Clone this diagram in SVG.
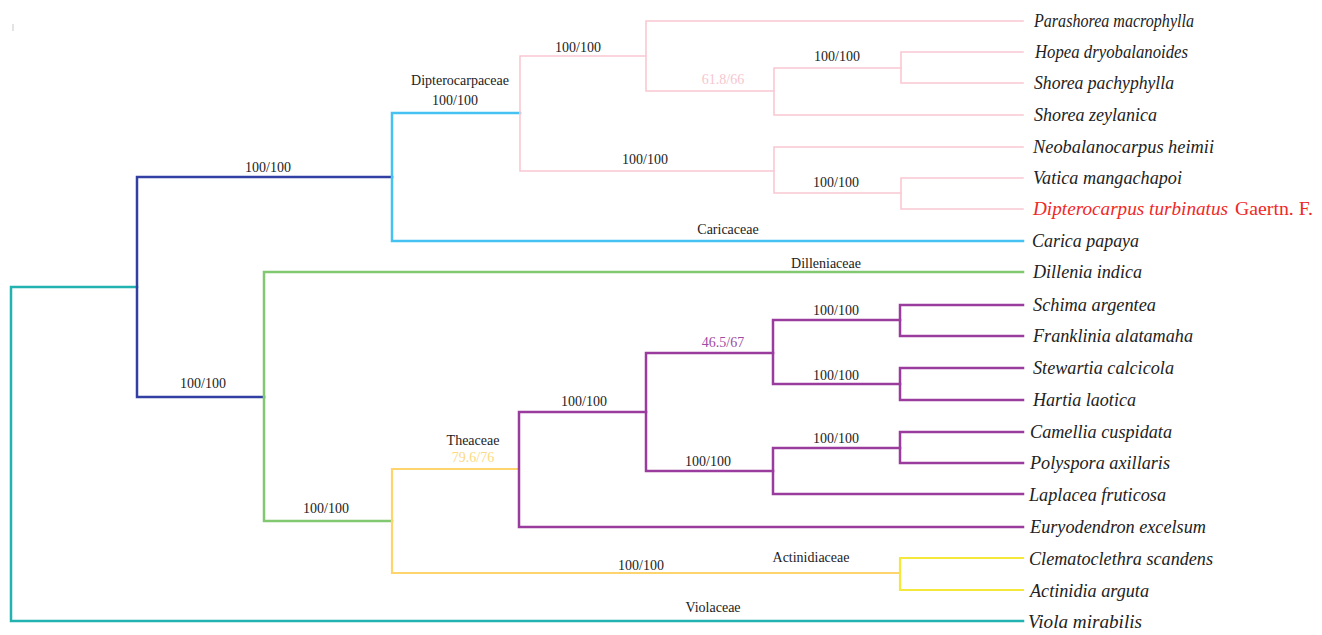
<svg xmlns="http://www.w3.org/2000/svg" width="1322" height="635" viewBox="0 0 1322 635">
<style>
.tip{font-family:"Liberation Serif","Times New Roman",serif;font-style:italic;font-size:19.5px;fill:#222}
.sup{font-family:"Liberation Serif","Times New Roman",serif;font-size:14px;fill:#222;text-anchor:middle}
.fam{font-family:"Liberation Serif","Times New Roman",serif;font-size:14px;fill:#222;text-anchor:middle}
path{fill:none;stroke-linecap:square}
.teal{stroke:#22b2b0;stroke-width:2.5}
.navy{stroke:#3140a2;stroke-width:2.5}
.sky{stroke:#46c2f2;stroke-width:2.5}
.pink{stroke:#fac8d2;stroke-width:1.6}
.green{stroke:#82c870;stroke-width:2.5}
.orange{stroke:#fdd56c;stroke-width:2.2}
.purple{stroke:#9a3c9e;stroke-width:2.5}
.yellow{stroke:#f4e83a;stroke-width:2.2}
</style>
<rect width="1322" height="635" fill="#ffffff"/>
<line x1="13" y1="24" x2="13" y2="31" stroke="#c8c8c8" stroke-width="1"/>
<g id="connectors">
<path class="teal" d="M137,287 H11 V621 H1023"/>
<path class="navy" d="M392,177 H137 V397 H264"/>
<path class="sky" d="M520,113 H392 V241 H1023"/>
<path class="pink" d="M646,56 H520 V171 H774"/>
<path class="pink" d="M1023,21 H646 V91 H774"/>
<path class="pink" d="M901,68 H774 V115 H1023"/>
<path class="pink" d="M1023,52 H901 V83 H1023"/>
<path class="pink" d="M1023,147 H774 V193 H901"/>
<path class="pink" d="M1023,178 H901 V209 H1023"/>
<path class="green" d="M1023,272 H264 V521 H392"/>
<path class="orange" d="M519,469 H392 V573 H900"/>
<path class="purple" d="M646,412 H519 V527 H1023"/>
<path class="purple" d="M773,353 H646 V471 H773"/>
<path class="purple" d="M900,320 H773 V384 H900"/>
<path class="purple" d="M1023,305 H900 V336 H1023"/>
<path class="purple" d="M1023,368 H900 V400 H1023"/>
<path class="purple" d="M900,448 H773 V494 H1023"/>
<path class="purple" d="M1023,432 H900 V463 H1023"/>
<path class="yellow" d="M1023,558 H900 V590 H1023"/>
</g>
<g id="support-labels">
<text class="sup" x="268" y="172">100/100</text>
<text class="sup" x="455" y="105">100/100</text>
<text class="sup" x="578" y="52">100/100</text>
<text class="sup" x="723" y="84" style="fill:#f6c6cf">61.8/66</text>
<text class="sup" x="837" y="61">100/100</text>
<text class="sup" x="645" y="164">100/100</text>
<text class="sup" x="836" y="187">100/100</text>
<text class="sup" x="203" y="388">100/100</text>
<text class="sup" x="326" y="513">100/100</text>
<text class="sup" x="473" y="462" style="fill:#fcd982">79.6/76</text>
<text class="sup" x="584" y="406">100/100</text>
<text class="sup" x="723" y="347" style="fill:#a04aa4">46.5/67</text>
<text class="sup" x="836" y="315">100/100</text>
<text class="sup" x="836" y="380">100/100</text>
<text class="sup" x="836" y="443">100/100</text>
<text class="sup" x="708" y="466">100/100</text>
<text class="sup" x="641" y="570">100/100</text>
</g>
<g id="family-labels">
<text class="fam" x="460" y="85">Dipterocarpaceae</text>
<text class="fam" x="728" y="234">Caricaceae</text>
<text class="fam" x="826" y="268">Dilleniaceae</text>
<text class="fam" x="473" y="445">Theaceae</text>
<text class="fam" x="811" y="562">Actinidiaceae</text>
<text class="fam" x="713" y="612">Violaceae</text>
</g>
<g id="tip-parashorea"><text class="tip" x="1034" y="27" textLength="160" lengthAdjust="spacingAndGlyphs">Parashorea macrophylla</text></g>
<g id="tip-hopea"><text class="tip" x="1035" y="58" textLength="153" lengthAdjust="spacingAndGlyphs">Hopea dryobalanoides</text></g>
<g id="tip-shorea-pachyphylla"><text class="tip" x="1034" y="89" textLength="140" lengthAdjust="spacingAndGlyphs">Shorea pachyphylla</text></g>
<g id="tip-shorea-zeylanica"><text class="tip" x="1034" y="121" textLength="123" lengthAdjust="spacingAndGlyphs">Shorea zeylanica</text></g>
<g id="tip-neobalanocarpus"><text class="tip" x="1033" y="153" textLength="181" lengthAdjust="spacingAndGlyphs">Neobalanocarpus heimii</text></g>
<g id="tip-vatica"><text class="tip" x="1033" y="184" textLength="149" lengthAdjust="spacingAndGlyphs">Vatica mangachapoi</text></g>
<g id="tip-dipterocarpus"><text class="tip" x="1033" y="215" style="fill:#f02828" textLength="195" lengthAdjust="spacingAndGlyphs">Dipterocarpus turbinatus</text><text class="tip" x="1235" y="215" style="fill:#f02828;font-style:normal" textLength="78" lengthAdjust="spacingAndGlyphs">Gaertn. F.</text></g>
<g id="tip-carica"><text class="tip" x="1032" y="247" textLength="107" lengthAdjust="spacingAndGlyphs">Carica papaya</text></g>
<g id="tip-dillenia"><text class="tip" x="1033" y="278" textLength="109" lengthAdjust="spacingAndGlyphs">Dillenia indica</text></g>
<g id="tip-schima"><text class="tip" x="1033" y="311" textLength="123" lengthAdjust="spacingAndGlyphs">Schima argentea</text></g>
<g id="tip-franklinia"><text class="tip" x="1033" y="342" textLength="160" lengthAdjust="spacingAndGlyphs">Franklinia alatamaha</text></g>
<g id="tip-stewartia"><text class="tip" x="1033" y="374" textLength="141" lengthAdjust="spacingAndGlyphs">Stewartia calcicola</text></g>
<g id="tip-hartia"><text class="tip" x="1033" y="406" textLength="103" lengthAdjust="spacingAndGlyphs">Hartia laotica</text></g>
<g id="tip-camellia"><text class="tip" x="1030" y="438" textLength="142" lengthAdjust="spacingAndGlyphs">Camellia cuspidata</text></g>
<g id="tip-polyspora"><text class="tip" x="1030" y="469" textLength="140" lengthAdjust="spacingAndGlyphs">Polyspora axillaris</text></g>
<g id="tip-laplacea"><text class="tip" x="1029" y="501" textLength="137" lengthAdjust="spacingAndGlyphs">Laplacea fruticosa</text></g>
<g id="tip-euryodendron"><text class="tip" x="1030" y="533" textLength="176" lengthAdjust="spacingAndGlyphs">Euryodendron excelsum</text></g>
<g id="tip-clematoclethra"><text class="tip" x="1029" y="565" textLength="184" lengthAdjust="spacingAndGlyphs">Clematoclethra scandens</text></g>
<g id="tip-actinidia"><text class="tip" x="1030" y="597" textLength="119" lengthAdjust="spacingAndGlyphs">Actinidia arguta</text></g>
<g id="tip-viola"><text class="tip" x="1028" y="628" textLength="114" lengthAdjust="spacingAndGlyphs">Viola mirabilis</text></g>
</svg>
